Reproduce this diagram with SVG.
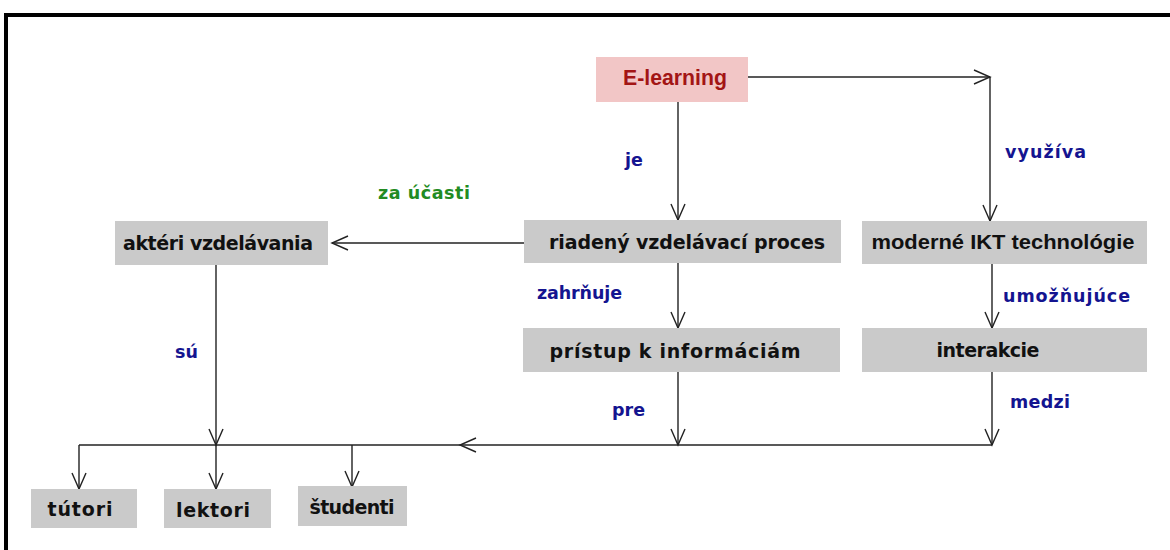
<svg xmlns="http://www.w3.org/2000/svg" width="1170" height="550" viewBox="0 0 1170 550">
<style>
.box{fill:#cacaca}
.pink{fill:#f2c6c6}
.t{font-family:"DejaVu Sans","Liberation Sans",sans-serif;font-weight:bold;font-size:19px;fill:#111;text-anchor:middle}
.a{font-family:"Liberation Sans",Arial,sans-serif;font-weight:bold;font-size:20px;fill:#111;text-anchor:middle}
.lb{font-family:"DejaVu Sans","Liberation Sans",sans-serif;font-weight:bold;font-size:17.5px;fill:#141490}
.lg{font-family:"DejaVu Sans","Liberation Sans",sans-serif;font-weight:bold;font-size:17.5px;fill:#228B22}
.c{fill:none;stroke:#222;stroke-width:1.4}
</style>
<defs>
<marker id="ah" markerUnits="userSpaceOnUse" markerWidth="20" markerHeight="20" viewBox="-18 -10 20 20" refX="0" refY="0" orient="auto">
<path d="M-16,-7 L0,0 L-16,7" fill="none" stroke="#222" stroke-width="1.4"/>
</marker>
</defs>
<rect width="1170" height="550" fill="#fff"/>
<path d="M6,550 V15 H1170" fill="none" stroke="#000" stroke-width="4"/>

<g id="connectors">
<path class="c" d="M748,77 H990" marker-end="url(#ah)"/>
<path class="c" d="M990,77 V221" marker-end="url(#ah)"/>
<path class="c" d="M678,102 V220" marker-end="url(#ah)"/>
<path class="c" d="M524,243 H332" marker-end="url(#ah)"/>
<path class="c" d="M678,263 V328" marker-end="url(#ah)"/>
<path class="c" d="M992,264 V328" marker-end="url(#ah)"/>
<path class="c" d="M678,372 V445" marker-end="url(#ah)"/>
<path class="c" d="M992,372 V445" marker-end="url(#ah)"/>
<path class="c" d="M992,445 H460" marker-end="url(#ah)"/>
<path class="c" d="M460,445 H79"/>
<path class="c" d="M79,445 V489" marker-end="url(#ah)"/>
<path class="c" d="M216,265 V445" marker-end="url(#ah)"/>
<path class="c" d="M216,445 V489" marker-end="url(#ah)"/>
<path class="c" d="M352,445 V487" marker-end="url(#ah)"/>
<text class="lb" x="625" y="166">je</text>
<text class="lb" x="1005" y="158" textLength="81" lengthAdjust="spacing">využíva</text>
<text class="lg" x="378" y="199" textLength="92" lengthAdjust="spacing">za účasti</text>
<text class="lb" x="537" y="299" textLength="85" lengthAdjust="spacing">zahrňuje</text>
<text class="lb" x="1003" y="302" textLength="127" lengthAdjust="spacing">umožňujúce</text>
<text class="lb" x="175" y="358">sú</text>
<text class="lb" x="612" y="416" textLength="33" lengthAdjust="spacing">pre</text>
<text class="lb" x="1010" y="408" textLength="60" lengthAdjust="spacing">medzi</text>
</g>

<g id="elearning">
<rect class="pink" x="596" y="57" width="152" height="45"/>
<text class="a" x="675" y="85" style="fill:#a31515;font-size:22px" textLength="104" lengthAdjust="spacingAndGlyphs">E-learning</text>
</g>
<g id="riadeny">
<rect class="box" x="524" y="220" width="317" height="43"/>
<text class="t" x="687" y="249" textLength="276" lengthAdjust="spacing">riadený vzdelávací proces</text>
</g>
<g id="moderne">
<rect class="box" x="862" y="221" width="285" height="43"/>
<text class="a" x="1003" y="249" textLength="263" lengthAdjust="spacingAndGlyphs">moderné IKT technológie</text>
</g>
<g id="akteri">
<rect class="box" x="115" y="221" width="213" height="44"/>
<text class="t" x="218" y="250" textLength="190" lengthAdjust="spacing">aktéri vzdelávania</text>
</g>
<g id="pristup">
<rect class="box" x="523" y="328" width="317" height="44"/>
<text class="t" x="675" y="358" textLength="251" lengthAdjust="spacing">prístup k informáciám</text>
</g>
<g id="interakcie">
<rect class="box" x="862" y="328" width="285" height="44"/>
<text class="t" x="988" y="357" textLength="103" lengthAdjust="spacing">interakcie</text>
</g>
<g id="tutori">
<rect class="box" x="31" y="489" width="106" height="39"/>
<text class="t" x="80" y="516" textLength="65" lengthAdjust="spacing">tútori</text>
</g>
<g id="lektori">
<rect class="box" x="164" y="489" width="107" height="39"/>
<text class="t" x="213" y="517" textLength="74" lengthAdjust="spacing">lektori</text>
</g>
<g id="studenti">
<rect class="box" x="298" y="486" width="109" height="40"/>
<text class="t" x="352" y="514" textLength="85" lengthAdjust="spacing">študenti</text>
</g>
</svg>
